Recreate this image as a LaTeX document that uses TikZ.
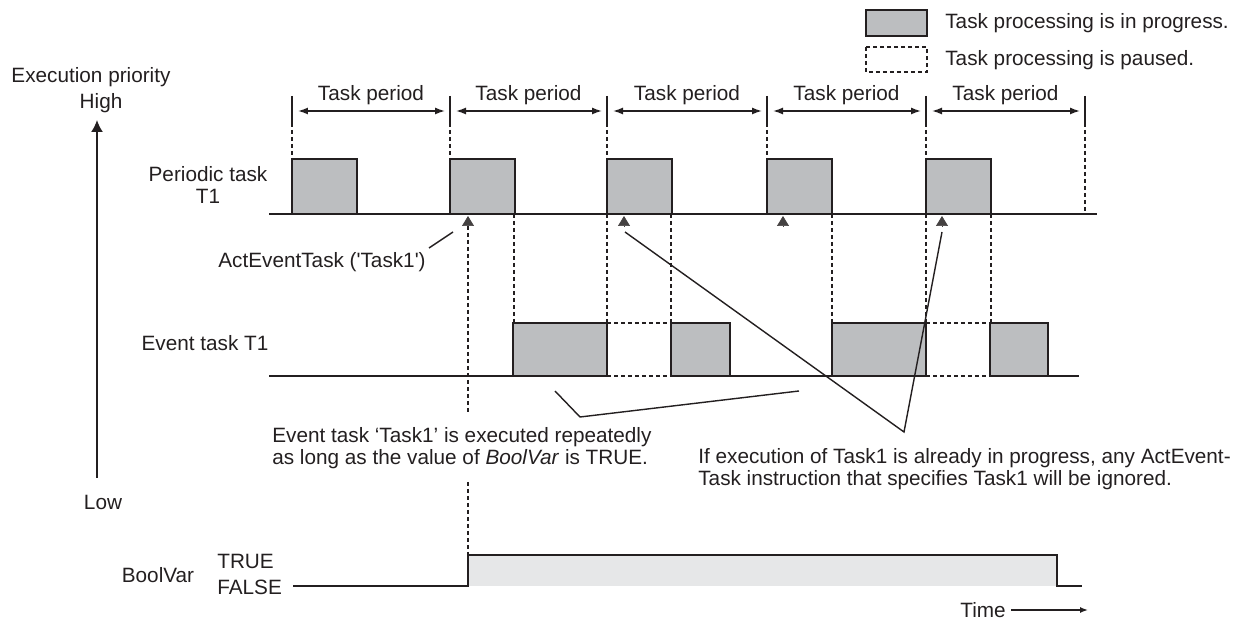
\documentclass[tikz,border=0pt]{standalone}
\usepackage{fontspec}
\setmainfont{Liberation Sans}
\usetikzlibrary{arrows.meta}
\definecolor{tkInk}{HTML}{231F20}
\definecolor{tkRun}{HTML}{BCBEC0}
\definecolor{tkSig}{HTML}{E6E7E8}
\begin{document}
\begin{tikzpicture}[
  x=0.02cm, y=-0.02cm,
  lbl/.style={font=\fontsize{11.8}{12.6}\selectfont, text=tkInk, inner sep=0pt},
  run/.style={draw=tkInk, fill=tkRun, line width=1.1pt},
  pause/.style={draw=tkInk, line width=0.8pt, dash pattern=on 0.08cm off 0.06cm},
  guide/.style={draw=tkInk, line width=0.8pt, dash pattern=on 0.08cm off 0.06cm},
  base/.style={draw=tkInk, line width=1pt},
  ebase/.style={draw=tkInk, line width=0.8pt},
  note/.style={draw=tkInk, line width=0.8pt},
  per/.style={{Latex[length=0.2cm,width=0.14cm]}-{Latex[length=0.2cm,width=0.14cm]}, draw=tkInk, line width=0.8pt},
  axis/.style={-{Latex[length=0.24cm,width=0.24cm]}, draw=tkInk, line width=1pt},
  hit/.style={-{Triangle[length=0.2cm,width=0.24cm]}, draw=tkInk!85},
  tarr/.style={-{Latex[length=0.16cm,width=0.12cm]}, draw=tkInk, line width=0.8pt}
]
  \useasboundingbox (0,0) rectangle (1249,621);
  \filldraw[run] (866,10) rectangle (927,36);
  \draw[pause] (866,47) rectangle (927,72);
  \node[lbl,anchor=west] (lgrun) at (945,23) {Task processing is in progress.};
  \node[lbl,anchor=west] (lgpause) at (945,60) {Task processing is paused.};
  \node[lbl] (prio) at (91,77) {Execution priority};
  \node[lbl] (high) at (101,103) {High};
  \node[lbl] (low) at (103,502) {Low};
  \coordinate (axlo) at (97,478);
  \coordinate (axhi) at (97,120);
  \draw[axis] (axlo) -- (axhi);
  \foreach \x in {292,450,607,767,926,1085} {
    \draw[base] (\x,96) -- (\x,123);
  }
  \foreach \x in {292,450,607,767,926} {
    \draw[guide] (\x,123) -- (\x,159);
  }
  \draw[guide] (1085,123) -- (1085,214);
  \foreach \a/\b in {292/450,450/607,607/767,767/926,926/1085} {
    \draw[per] (\a+6,111) -- (\b-5,111);
    \node[lbl] at ({(\a+\b)/2},95) {Task period};
  }
  \foreach \x in {292,450,607,767,926} {
    \filldraw[run] (\x,159) rectangle (\x+65,214);
  }
  \draw[base] (269,214) -- (1097,214);
  \node[lbl,align=center,font=\fontsize{11.8}{12}\selectfont] (ptask) at (208,185) {Periodic task\\T1};
  \foreach \x in {468,624,783,942} {
    \draw[hit] (\x,226) -- (\x,216);
  }
  \foreach \x in {514,607,671,832,926,991} {
    \draw[guide] (\x,214) -- (\x,323);
  }
  \draw[guide] (468,226) -- (468,413);
  \draw[guide] (468,482) -- (468,555);
  \foreach \a/\b in {513/607,671/730,832/926,990/1048} {
    \filldraw[run] (\a,323) rectangle (\b,376);
  }
  \foreach \a/\b in {607/671,926/990} {
    \draw[guide] (\a,323) -- (\b,323) (\a,376) -- (\b,376);
  }
  \draw[ebase] (269,376) -- (607,376) (671,376) -- (926,376) (990,376) -- (1079,376);
  \node[lbl] (etask) at (205,343) {Event task T1};
  \node[lbl] (act) at (322,262) {ActEventTask (\textquotesingle Task1\textquotesingle)};
  \draw[note] (429,248) -- (453,232);
  \node[lbl,align=left,anchor=base west] (repeat) at (272,465) {Event task `Task1' is executed repeatedly\\as long as the value of \textit{BoolVar} is TRUE.};
  \draw[note] (555,391) -- (580,417) -- (799,391);
  \node[lbl,align=left,anchor=base west] (ignore) at (698,486) {If execution of Task1 is already in progress, any ActEvent-\\Task instruction that specifies Task1 will be ignored.};
  \draw[note] (625,232) -- (904,432) -- (942,232);
  \fill[tkSig] (468,555) rectangle (1057,586);
  \draw[base] (293,586) -- (468,586) -- (468,555) -- (1057,555) -- (1057,586) -- (1082,586);
  \node[lbl] (bv) at (158,575) {BoolVar};
  \node[lbl,anchor=west] (tru) at (217,561) {TRUE};
  \node[lbl,anchor=west] (fal) at (217,587) {FALSE};
  \node[lbl,anchor=east] (time) at (1006,610) {Time};
  \draw[tarr] ([xshift=0.1cm]time.east) -- (1088,610);
\end{tikzpicture}
\end{document}
